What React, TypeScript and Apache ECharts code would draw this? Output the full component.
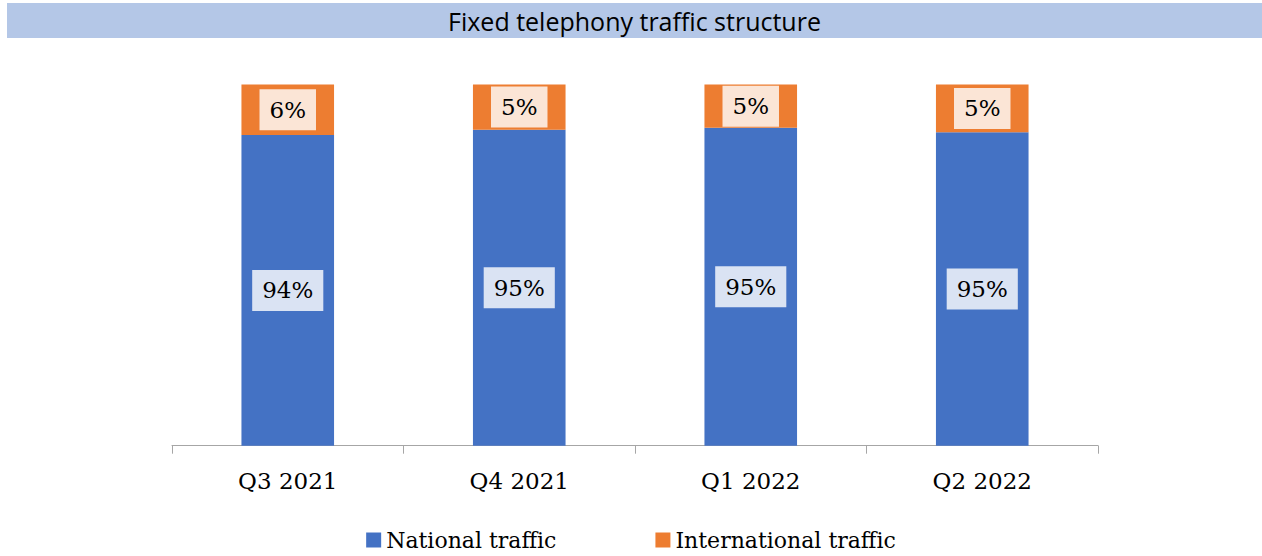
import React, { useEffect, useRef } from "react";
import * as echarts from "echarts";

const titleText = "Fixed telephony traffic structure";
const categories = ["Q3 2021", "Q4 2021", "Q1 2022", "Q2 2022"];
const seriesNames = ["National traffic", "International traffic"];
const nationalValues = [94.4, 95.0, 95.2, 94.7];
const internationalValues = [5.6, 5.0, 4.8, 5.3];

const SERIF = "'DejaVu Serif', serif";

export default function App() {
  const ref = useRef<HTMLDivElement>(null);
  useEffect(() => {
    document.body.style.margin = "0";
    const chart = echarts.init(ref.current!, null, { renderer: "svg" });
    const pct = (p: any) => Math.round(p.value) + "%";
    chart.setOption({
      animation: false,
      backgroundColor: "#ffffff",
      graphic: [
        {
          type: "rect",
          shape: { x: 7, y: 3, width: 1255, height: 35 },
          style: { fill: "#B4C7E7" },
          silent: true,
        },
        {
          type: "text",
          x: 634.5,
          y: 21,
          style: {
            text: titleText,
            fill: "#000000",
            font: "25px 'Open Sans', Lato, sans-serif",
            align: "center",
            verticalAlign: "middle",
          },
        },
      ],
      legend: {
        data: seriesNames,
        left: "center",
        top: 524,
        itemWidth: 15,
        itemHeight: 15,
        itemGap: 99,
        icon: "rect",
        textStyle: { fontFamily: SERIF, fontSize: 22, color: "#000000" },
      },
      grid: { left: 172, right: 164, top: 84.5, bottom: 110.3, containLabel: false },
      xAxis: {
        type: "category",
        data: categories,
        axisLine: { lineStyle: { color: "#A6A6A6", width: 1 } },
        axisTick: { show: true, length: 8, lineStyle: { color: "#A6A6A6" } },
        axisLabel: { fontFamily: SERIF, fontSize: 23, color: "#000000", margin: 24 },
      },
      yAxis: {
        type: "value",
        min: 60,
        max: 100,
        show: false,
        splitLine: { show: false },
      },
      series: [
        {
          name: seriesNames[0],
          type: "bar",
          stack: "total",
          data: nationalValues,
          barWidth: "40%",
          itemStyle: { color: "#4472C4" },
          label: {
            show: true,
            position: "inside",
            formatter: pct,
            fontFamily: SERIF,
            fontSize: 23,
            color: "#000000",
            backgroundColor: "#DAE3F3",
            padding: [9, 10],
          },
        },
        {
          name: seriesNames[1],
          type: "bar",
          stack: "total",
          data: internationalValues,
          barWidth: "40%",
          itemStyle: { color: "#ED7D31" },
          label: {
            show: true,
            position: "inside",
            formatter: pct,
            fontFamily: SERIF,
            fontSize: 23,
            color: "#000000",
            backgroundColor: "#FBE5D6",
            padding: [9, 10],
          },
        },
      ],
    });
    return () => chart.dispose();
  }, []);
  return <div ref={ref} style={{ width: 1262, height: 556 }} />;
}
